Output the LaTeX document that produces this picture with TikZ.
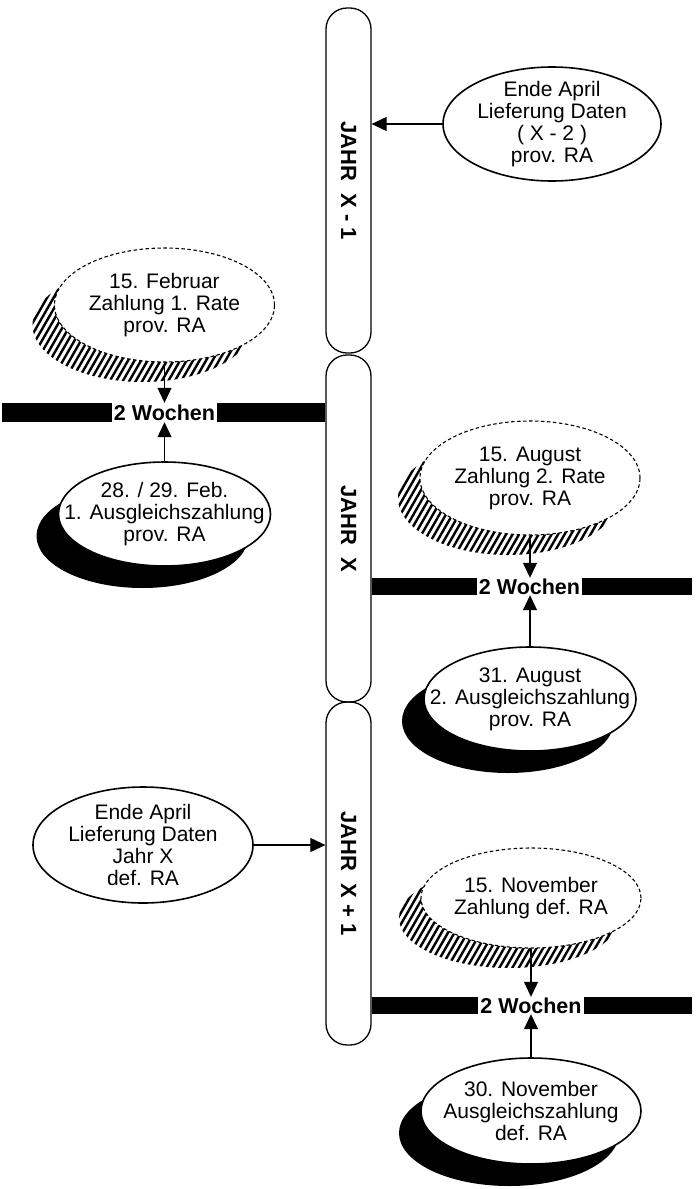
\documentclass[tikz,border=0pt]{standalone}
\usepackage{fontspec}
\setmainfont{Liberation Sans}
\usetikzlibrary{shapes.geometric,shadows,arrows.meta}

\pgfdeclarelayer{background}
\pgfsetlayers{background,main}

\tikzset{
  jahrbalken/.style={draw, line width=1.3pt, rounded corners=21pt, minimum width=45pt, inner sep=0pt},
  jahrtext/.style={rotate=-90, font=\bfseries\fontsize{22}{22}\selectfont},
  termin/.style={ellipse, draw, fill=white, line width=1.6pt, inner sep=-40pt, align=center,
    font=\fontsize{21}{22}\selectfont},
  rate/.style={termin, dash pattern=on 3.5pt off 2.5pt, line width=1.1pt},
  ausgleich/.style={termin, general shadow={shadow xshift=-22pt, shadow yshift=-22pt, draw=none, fill=black}},
  wochen/.style={fill=white, inner xsep=2pt, inner ysep=0pt, font=\bfseries\fontsize{21.5}{22}\selectfont},
  pfeil/.style={-{Triangle[length=15pt,width=14pt]}, line width=1.1pt}
}

\begin{document}
\begin{tikzpicture}[x=1pt,y=-1pt]
    \useasboundingbox (0,0) rectangle (698,1189);
    \node[jahrbalken, minimum height=345pt] (jahr1) at (348.5,180.5) {};
    \node[jahrbalken, minimum height=347pt] (jahr2) at (348.5,528.5) {};
    \node[jahrbalken, minimum height=343pt] (jahr3) at (348.5,873.5) {};
    \foreach \j/\t in {jahr1/{X - 1}, jahr2/X, jahr3/{X + 1}}
        \node[jahrtext] at (\j) {JAHR\ \ \t};

    \fill (2,403) rectangle (jahr2.west |- 0,422);
    \fill (jahr2.east |- 0,578) rectangle (692,595);
    \fill (jahr3.east |- 0,997) rectangle (692,1014);
    \node[wochen, minimum height=19pt] (wochen1) at (164.5,412.5) {2 Wochen};
    \node[wochen, minimum height=17pt] (wochen2) at (529.5,586.5) {2 Wochen};
    \node[wochen, minimum height=17pt] (wochen3) at (531,1005.5) {2 Wochen};

    \node[termin, minimum width=218pt, minimum height=114pt] (liefer1) at (552,124)
        {Ende April\\Lieferung Daten\\( X - 2 )\\prov. RA};
    \node[rate, minimum width=220pt, minimum height=114pt] (rate1) at (164.5,305)
        {15. Februar\\Zahlung 1. Rate\\prov. RA};
    \node[ausgleich, minimum width=212pt, minimum height=104pt] (ausgl1) at (164.5,514)
        {28. / 29. Feb.\\1. Ausgleichszahlung\\prov. RA};
    \node[rate, minimum width=220pt, minimum height=114pt] (rate2) at (530,478)
        {15. August\\Zahlung 2. Rate\\prov. RA};
    \node[ausgleich, minimum width=212pt, minimum height=104pt] (ausgl2) at (530,699)
        {31. August\\2. Ausgleichszahlung\\prov. RA};
    \node[termin, minimum width=220pt, minimum height=116pt] (liefer2) at (143,845)
        {Ende April\\Lieferung Daten\\Jahr X\\def. RA};
    \node[rate, minimum width=220pt, minimum height=100pt] (rate3) at (531,898)
        {15. November\\Zahlung def. RA};
    \node[ausgleich, minimum width=220pt, minimum height=106pt] (ausgl3) at (531,1111)
        {30. November\\Ausgleichszahlung\\def. RA};

    \begin{pgfonlayer}{background}
    \foreach \n/\ry in {rate1/57, rate2/57, rate3/50} {
        \begin{scope}
        \clip ([shift={(-22,20)}]\n.center) ellipse [x radius=110pt, y radius=\ry pt];
        \foreach \i in {-200,-193.5,...,95}
            \draw[line width=2.4pt] ([shift={(\i,80)}]\n.center) -- ++(70,-122);
        \end{scope}
    }
    \end{pgfonlayer}

    \draw[pfeil] (liefer1.west) -- (liefer1.west -| jahr1.east);
    \draw[pfeil] (rate1.south) -- (rate1.south |- wochen1.north);
    \draw[pfeil] (ausgl1.north) -- (ausgl1.north |- wochen1.south);
    \draw[pfeil] (rate2.south) -- (rate2.south |- wochen2.north);
    \draw[pfeil] (ausgl2.north) -- (ausgl2.north |- wochen2.south);
    \draw[pfeil] (liefer2.east) -- (liefer2.east -| jahr3.west);
    \draw[pfeil] (rate3.south) -- (rate3.south |- wochen3.north);
    \draw[pfeil] (ausgl3.north) -- (ausgl3.north |- wochen3.south);
\end{tikzpicture}
\end{document}
